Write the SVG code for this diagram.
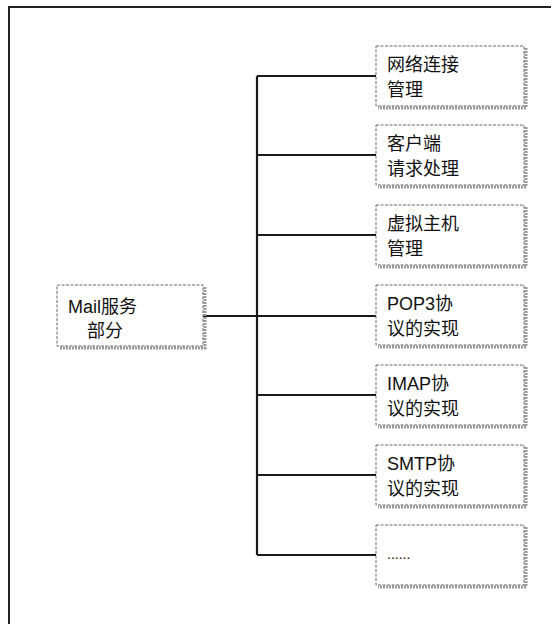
<svg xmlns="http://www.w3.org/2000/svg" width="551" height="624" viewBox="0 0 551 624">
<style>
.frame{fill:none;stroke:#222;stroke-width:2}
.shadow{fill:none;stroke:#999;stroke-width:3;stroke-dasharray:2 1}
.box{fill:#fff;stroke:#666;stroke-width:1;stroke-dasharray:3 1.5}
.conn{fill:none;stroke:#1a1a1a;stroke-width:2.2}
.t{font-family:"Liberation Sans","Noto Sans CJK SC",sans-serif;font-size:18px;fill:#111}
</style>
<rect x="0" y="0" width="551" height="624" fill="#fff"/>
<rect class="frame" x="9" y="7" width="560" height="640"/>
<g id="connectors">
<path class="conn" d="M257 76V555M203 316H376M257 76H376M257 155H376M257 235H376M257 395H376M257 475H376M257 555H376"/>
</g>
<g id="main">
<path class="shadow" d="M205 287V348H59"/>
<rect class="box" x="57" y="285" width="146" height="61"/>
<text class="t" x="68" y="313">Mail服务</text>
<text class="t" x="87" y="337">部分</text>
</g>
<g id="n1">
<path class="shadow" d="M526 48V108H378"/>
<rect class="box" x="376" y="46" width="148" height="60"/>
<text class="t" x="387" y="71">网络连接</text>
<text class="t" x="387" y="96">管理</text>
</g>
<g id="n2">
<path class="shadow" d="M526 127V187H378"/>
<rect class="box" x="376" y="125" width="148" height="60"/>
<text class="t" x="387" y="150">客户端</text>
<text class="t" x="387" y="175">请求处理</text>
</g>
<g id="n3">
<path class="shadow" d="M526 207V267H378"/>
<rect class="box" x="376" y="205" width="148" height="60"/>
<text class="t" x="387" y="230">虚拟主机</text>
<text class="t" x="387" y="255">管理</text>
</g>
<g id="n4">
<path class="shadow" d="M526 287V347H378"/>
<rect class="box" x="376" y="285" width="148" height="60"/>
<text class="t" x="387" y="310">POP3协</text>
<text class="t" x="387" y="335">议的实现</text>
</g>
<g id="n5">
<path class="shadow" d="M526 367V427H378"/>
<rect class="box" x="376" y="365" width="148" height="60"/>
<text class="t" x="387" y="390">IMAP协</text>
<text class="t" x="387" y="415">议的实现</text>
</g>
<g id="n6">
<path class="shadow" d="M526 447V507H378"/>
<rect class="box" x="376" y="445" width="148" height="60"/>
<text class="t" x="387" y="470">SMTP协</text>
<text class="t" x="387" y="495">议的实现</text>
</g>
<g id="n7">
<path class="shadow" d="M526 527V587H378"/>
<rect class="box" x="376" y="525" width="148" height="60"/>
<text class="t" x="387" y="559" style="font-size:14px">......</text>
</g>
</svg>
